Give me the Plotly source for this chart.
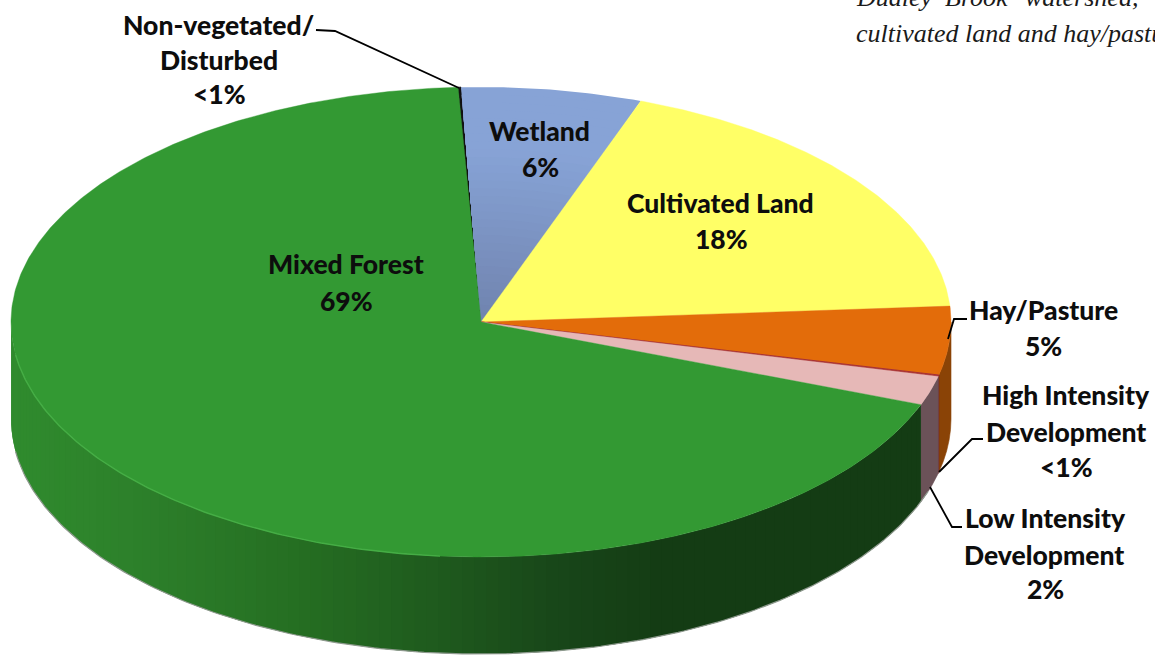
import numpy as np
import plotly.graph_objects as go

# ---- data (percent of watershed, clockwise) ----
categories = ["Non-vegetated/Disturbed", "Wetland", "Cultivated Land", "Hay/Pasture",
              "High Intensity Development", "Low Intensity Development", "Mixed Forest"]
values = [0.1, 6.2, 18.4, 4.7, 0.1, 2.0, 68.5]
top_colors = ["#111111", "#87a3d6", "#ffff66", "#e36c0a", "#a83030", "#e6b8b7", "#339933"]
wall_colors = ["#111111", "#5d7196", "#a8a83c", "#8a4306", "#6e2020", "#6b5258", None]

label_lines = [
    ("Non-vegetated/", 218, 25), ("Disturbed", 219, 60), ("<1%", 219, 94),
    ("Wetland", 539, 131), ("6%", 540, 167),
    ("Cultivated Land", 720, 203), ("18%", 721, 239),
    ("Mixed Forest", 346, 264), ("69%", 346, 301),
    ("Hay/Pasture", 1043, 310), ("5%", 1043, 346),
    ("High Intensity", 1066, 395), ("Development", 1066, 432), ("<1%", 1066, 467),
    ("Low Intensity", 1045, 518), ("Development", 1044, 555), ("2%", 1045, 589),
]
note_words = [("Dudley", 854, 0.5, -3), ("Brook", 943, 0.5, -3), ("watershed,", 1023, 0.5, -3),
              ("cultivated land and hay/pasture", 854, 33, 0)]
leaders = [
    [(316, 30), (335, 31), (459, 88)],
    [(967, 319), (954, 319), (948, 339)],
    [(983, 439), (972, 439), (939, 472)],
    [(962, 527), (952, 527), (930, 487)],
]

# ---- geometry of the tilted disc ----
CX, CY, RX, RY, DEPTH = 481, 322, 470, 235, 97
START_DEG = -2.8


def rim(theta_deg):
    t = np.radians(theta_deg)
    return CX + RX * np.sin(t), CY - RY * np.cos(t)


def mix(c1, c2, f):
    a = [int(c1[i:i + 2], 16) for i in (1, 3, 5)]
    b = [int(c2[i:i + 2], 16) for i in (1, 3, 5)]
    return "#%02x%02x%02x" % tuple(round(p + (q - p) * f) for p, q in zip(a, b))


edges = START_DEG + np.concatenate([[0], np.cumsum(values)]) / np.sum(values) * 360
fig = go.Figure()


def poly(xs, ys, color, lw=0.6):
    fig.add_trace(go.Scatter(x=list(xs), y=list(ys), mode="lines", fill="toself", fillcolor=color,
                             line=dict(color=color, width=lw), hoverinfo="skip", showlegend=False))


def wall_quad(a, b, color, lw=0.6):
    th = np.linspace(a, b, 6)
    x, y = rim(th)
    poly(np.r_[x, x[::-1], x[0]], np.r_[y, y[::-1] + DEPTH, y[0]], color, lw)


# side walls, drawn from the back to the front
wall_stops = [(0, "#308c2e"), (150, "#2c7f2a"), (300, "#256e22"), (450, "#1e581d"), (560, "#184619"),
              (660, "#143c14"), (925, "#143c14")]
for i, (a, b) in enumerate(zip(edges[:-1], edges[1:])):
    if b <= 90:
        continue
    a = max(a, 90)
    if categories[i] == "Mixed Forest":
        th = np.linspace(a, 270, 110)
        for p, q in zip(th[:-1], th[1:]):
            xm = rim((p + q) / 2)[0]
            xs = [s[0] for s in wall_stops]
            k = int(np.clip(np.searchsorted(xs, xm) - 1, 0, len(xs) - 2))
            f = (xm - xs[k]) / (xs[k + 1] - xs[k])
            # each strip runs on under the next one, so no seams show between them
            wall_quad(p, min(q + 1.5, 270), mix(wall_stops[k][1], wall_stops[k + 1][1], f), lw=0)
    else:
        wall_quad(a, b, wall_colors[i])

# grey soft edge along the bottom of the wall
bx, by = rim(np.linspace(108, 262, 200))
fig.add_trace(go.Scatter(x=bx, y=by + DEPTH, mode="lines", line=dict(color="#8f9a8f", width=1.2),
                         hoverinfo="skip", showlegend=False))

# top faces
for i, (a, b) in enumerate(zip(edges[:-1], edges[1:])):
    th = np.linspace(a, b, max(3, int((b - a) * 2)))
    x, y = rim(th)
    if categories[i] == "Wetland":
        for s in np.linspace(1, 0.04, 30):
            poly(np.r_[CX, CX + (x - CX) * s, CX], np.r_[CY, CY + (y - CY) * s, CY],
                 mix("#6f82ad", "#87a3d6", min(1, s / 0.75)), lw=0)
    else:
        poly(np.r_[CX, x, CX], np.r_[CY, y, CY], top_colors[i], lw=1.0 if b - a < 3 else 0.4)

# light rim highlight along the front-left of the forest face
hx, hy = rim(np.linspace(185, 262, 120))
fig.add_trace(go.Scatter(x=hx, y=hy, mode="lines", line=dict(color="#45ad45", width=1.4),
                         hoverinfo="skip", showlegend=False))

annotations = [dict(x=x, y=y, text=t, showarrow=False, xanchor="center", yanchor="middle",
                    font=dict(family="Lato, Carlito, sans-serif", size=26.5, color="#0d0d0d", weight=900))
               for t, x, y in label_lines]
annotations += [dict(x=x, y=y, yshift=-s, text=t, showarrow=False, xanchor="left", yanchor="middle",
                     font=dict(family="Liberation Serif, serif", size=26, color="#1a1a1a", style="italic"))
                for t, x, y, s in note_words]
shapes = [dict(type="path", xref="x", yref="y",
               path="M" + " L".join(f"{x},{y}" for x, y in pts),
               line=dict(color="#000000", width=1.8), layer="above")
          for pts in leaders]

fig.update_layout(
    width=1155, height=655, margin=dict(l=0, r=0, t=0, b=0),
    paper_bgcolor="#ffffff", plot_bgcolor="#ffffff", showlegend=False,
    xaxis=dict(range=[0, 1155], visible=False, fixedrange=True),
    yaxis=dict(range=[655, 0], visible=False, fixedrange=True),
    annotations=annotations, shapes=shapes,
)
fig.write_html("out.html", config=dict(displayModeBar=False),
               post_script="document.body.style.margin='0';document.body.style.overflow='hidden';")
